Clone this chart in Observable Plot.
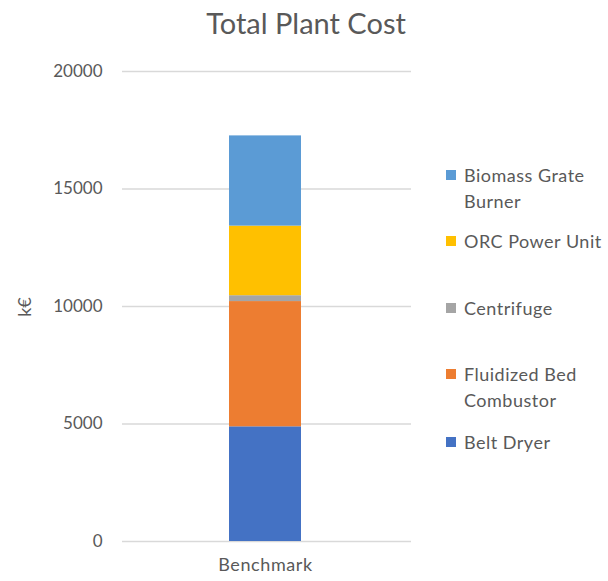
<!DOCTYPE html>
<html><head><meta charset="utf-8">
<script src="https://cdn.jsdelivr.net/npm/d3@7"></script>
<script src="https://cdn.jsdelivr.net/npm/@observablehq/plot@0.6"></script>
<style>
body{margin:0;background:#fff;font-family:Lato,"Open Sans",sans-serif;}
#wrap{position:relative;width:608px;height:581px;}
#title{position:absolute;left:0;top:4px;width:608px;text-align:center;padding-left:2px;font-size:29px;color:#595959;height:46px;line-height:38px;}
#chart{position:absolute;left:0;top:50px;}
.lg{position:absolute;left:446px;font-size:18px;letter-spacing:0.5px;color:#595959;line-height:26px;}
.lg .sw{position:absolute;left:0;top:8px;width:10px;height:10px;}
.lg .tx{margin-left:18px;white-space:nowrap;}
</style></head>
<body>
<div id="wrap">
<div id="title">Total Plant Cost</div>
<div id="chart"></div>
</div>
<script>
const scenarios = ["Benchmark"];
const components = ["Belt Dryer", "Fluidized Bed Combustor", "Centrifuge", "ORC Power Unit", "Biomass Grate Burner"];
const costs = [4880, 5330, 250, 2960, 3840];
const colors = ["#4472C4", "#ED7D31", "#A5A5A5", "#FFC000", "#5B9BD5"];
const yTicks = [0, 5000, 10000, 15000, 20000];
const legendOrder = ["Biomass Grate Burner", "ORC Power Unit", "Centrifuge", "Fluidized Bed Combustor", "Belt Dryer"];
const legendLines = {"Biomass Grate Burner": ["Biomass Grate", "Burner"], "Fluidized Bed Combustor": ["Fluidized Bed", "Combustor"]};

const rows = components.map((c, i) => ({scenario: scenarios[0], component: c, cost: costs[i]}));

const plot = Plot.plot({
  width: 608,
  height: 531,
  marginTop: 21,
  marginBottom: 40,
  marginLeft: 122,
  marginRight: 197,
  style: {fontFamily: "Lato, 'Open Sans', sans-serif", fontSize: "17px", color: "#595959", background: "transparent"},
  x: {domain: scenarios, padding: 0.6, label: null, tickSize: 0, tickPadding: 17},
  y: {domain: [0, 20000], ticks: yTicks, label: null, tickSize: 0, tickPadding: 20, tickFormat: d => String(d)},
  color: {domain: components, range: colors},
  marks: [
    Plot.ruleY(yTicks, {stroke: "#d9d9d9", strokeWidth: 1.6}),
    Plot.barY(rows, {x: "scenario", y: "cost", fill: "component", order: components, dx: -2}),
    Plot.axisY({ticks: yTicks, tickSize: 0, tickPadding: 20, label: null, tickFormat: d => String(d), fill: "#595959"}),
    Plot.axisX({tickSize: 0, tickPadding: 17, label: null, fill: "#595959", fontSize: 18, dx: -2})
  ]
});
document.getElementById("chart").appendChild(plot);
d3.select(plot).selectAll("[aria-label='x-axis tick label'] text").style("letter-spacing", "0.6px");

// y-axis title
const svg = d3.select(plot);
svg.append("text")
  .attr("transform", "translate(31,257) rotate(-90)")
  .attr("text-anchor", "middle")
  .attr("fill", "#595959")
  .style("font-size", "18px")
  .text("k€");

// legend
const legendTops = [162, 228, 295, 361, 429];
const wrap = document.getElementById("wrap");
legendOrder.forEach((name, i) => {
  const d = document.createElement("div");
  d.className = "lg";
  d.style.top = legendTops[i] + "px";
  const sw = document.createElement("div");
  sw.className = "sw";
  sw.style.background = colors[components.indexOf(name)];
  d.appendChild(sw);
  const tx = document.createElement("div");
  tx.className = "tx";
  tx.innerHTML = (legendLines[name] || [name]).join("<br>");
  d.appendChild(tx);
  wrap.appendChild(d);
});
</script>
</body></html>
